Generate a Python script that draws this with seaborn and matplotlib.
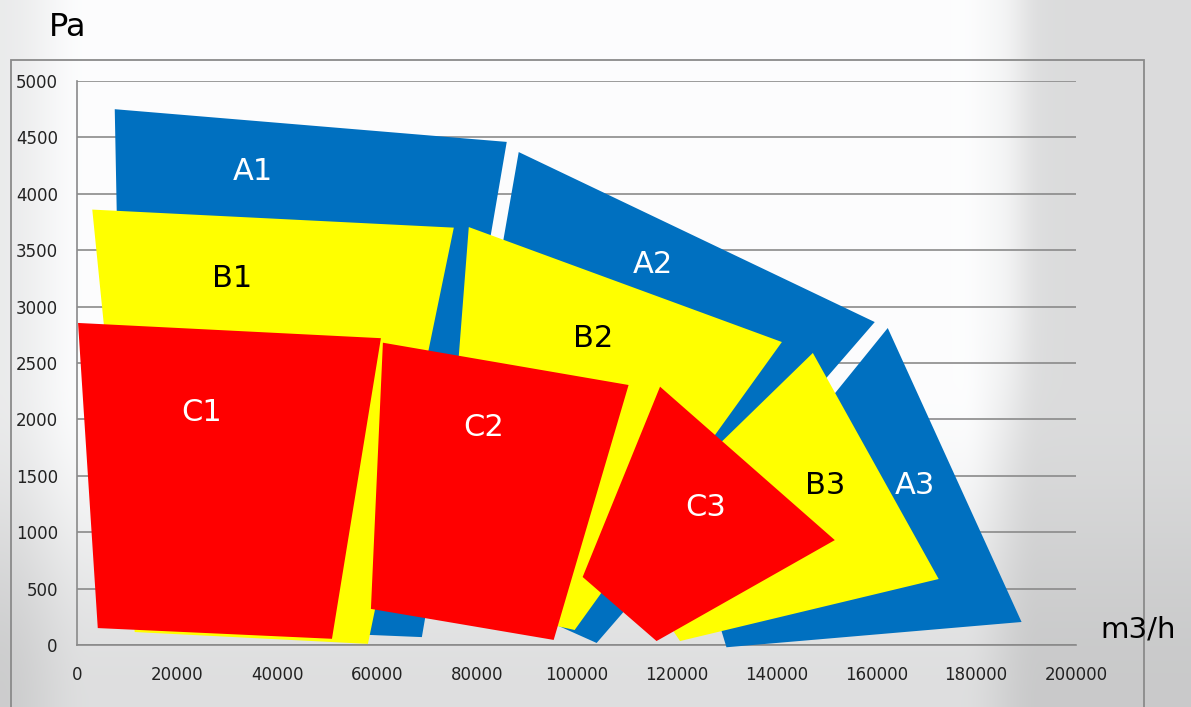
import numpy as np
import matplotlib
matplotlib.use("Agg")
import matplotlib.pyplot as plt
import seaborn as sns
from matplotlib.patches import Rectangle

# zone outlines (flow m3/h, pressure Pa), four corners each
zone_names = ["A1", "A2", "A3", "B1", "B2", "B3", "C1", "C2", "C3"]
zone_x = {
    "A1": [7500, 86000, 69000, 9500],
    "A2": [88400, 159700, 104000, 73600],
    "A3": [162300, 189100, 130000, 124700],
    "B1": [3000, 75400, 58200, 11500],
    "B2": [78400, 141100, 99600, 72600],
    "B3": [147300, 172500, 120700, 107800],
    "C1": [150, 60800, 51000, 4100],
    "C2": [61200, 110400, 95400, 58800],
    "C3": [116700, 151700, 116000, 101200],
}
zone_y = {
    "A1": [4750, 4460, 70, 180],
    "A2": [4370, 2863, 18, 620],
    "A3": [2810, 204, -20, 754],
    "B1": [3860, 3700, 10, 115],
    "B2": [3705, 2686, 133, 400],
    "B3": [2589, 585, 35, 887],
    "C1": [2855, 2720, 55, 150],
    "C2": [2680, 2305, 45, 320],
    "C3": [2290, 930, 35, 603],
}
# label anchor points
label_x = [35200, 115300, 167700, 31000, 103200, 149700, 24800, 81400, 125900]
label_y = [4200, 3370, 1410, 3245, 2713, 1410, 2057, 1924, 1215]

x_ticks = list(range(0, 200001, 20000))
y_ticks = list(range(0, 5001, 500))

fill_colors = {"A": "#0070C0", "B": "#FFFF00", "C": "#FF0000"}
text_colors = {"A": "white", "B": "black", "C": "white"}

sns.set_theme(style="white")
plt.rcParams["font.family"] = ["DejaVu Sans"]

W, H = 1191, 707
fig = plt.figure(figsize=(W / 100, H / 100), dpi=100)

# soft grey photo-like backdrop
yy, xx = np.mgrid[0:H, 0:W].astype(float)
def smooth(v, a, b):
    t = np.clip((v - a) / (b - a), 0, 1)
    return t * t * (3 - 2 * t)
val = np.full((H, W), 0.995)
val -= 0.13 * smooth(xx, 960, 1040)
val -= 0.12 * smooth(yy, 380, 700) * (1 - 0.4 * smooth(xx, 960, 1040))
val -= 0.07 * (1 - smooth(xx, 0, 90))
val += 0.04 * np.exp(-((xx - 1010) / 25) ** 2) * (1 - smooth(yy, 300, 500))
val = np.clip(val, 0, 1)
bg = np.dstack([val * 0.995, val * 0.997, val])
bg_ax = fig.add_axes([0, 0, 1, 1], zorder=-10)
bg_ax.imshow(bg, aspect="auto", extent=[0, 1, 0, 1])
bg_ax.axis("off")

# outer chart frame
fig.add_artist(Rectangle((10.7 / W, -0.1), (1144 - 10.7) / W, (H - 60) / H + 0.1,
                         transform=fig.transFigure, fill=False, ec="#8a8a8a", lw=1.3))

ax = fig.add_axes([77.3 / W, 1 - 645 / H, (1076 - 77.3) / W, (645 - 81) / H])
ax.patch.set_alpha(0)

for name in zone_names:
    ax.fill(zone_x[name], zone_y[name], color=fill_colors[name[0]], lw=0,
            zorder=3, clip_on=False)

for name, lx, ly in zip(zone_names, label_x, label_y):
    ax.text(lx, ly, name, color=text_colors[name[0]], fontsize=22,
            ha="center", va="center", zorder=5)

ax.set_xlim(0, 200000)
ax.set_ylim(0, 5000)
ax.set_xticks(x_ticks)
ax.set_yticks(y_ticks)
ax.set_xticklabels([str(v) for v in x_ticks])
ax.set_yticklabels([str(v) for v in y_ticks])
ax.tick_params(axis="both", which="major", length=5, width=1.2, color="#8a8a8a",
               labelsize=12, labelcolor="#222222", direction="out")
ax.tick_params(axis="x", pad=10)
ax.tick_params(axis="y", pad=9)
ax.yaxis.grid(True, color="#8a8a8a", lw=1.2)
ax.xaxis.grid(False)
ax.set_axisbelow(True)
sns.despine(ax=ax)
for side in ["left", "bottom"]:
    ax.spines[side].set_color("#8a8a8a")
    ax.spines[side].set_linewidth(1.2)

fig.text(68 / W, 1 - 27 / H, "Pa", fontsize=23, ha="center", va="center", color="black")
fig.text(1138 / W, 1 - 638 / H, "m3/h", fontsize=21, ha="center", va="baseline", color="black")

fig.savefig("out.png", dpi=100)
